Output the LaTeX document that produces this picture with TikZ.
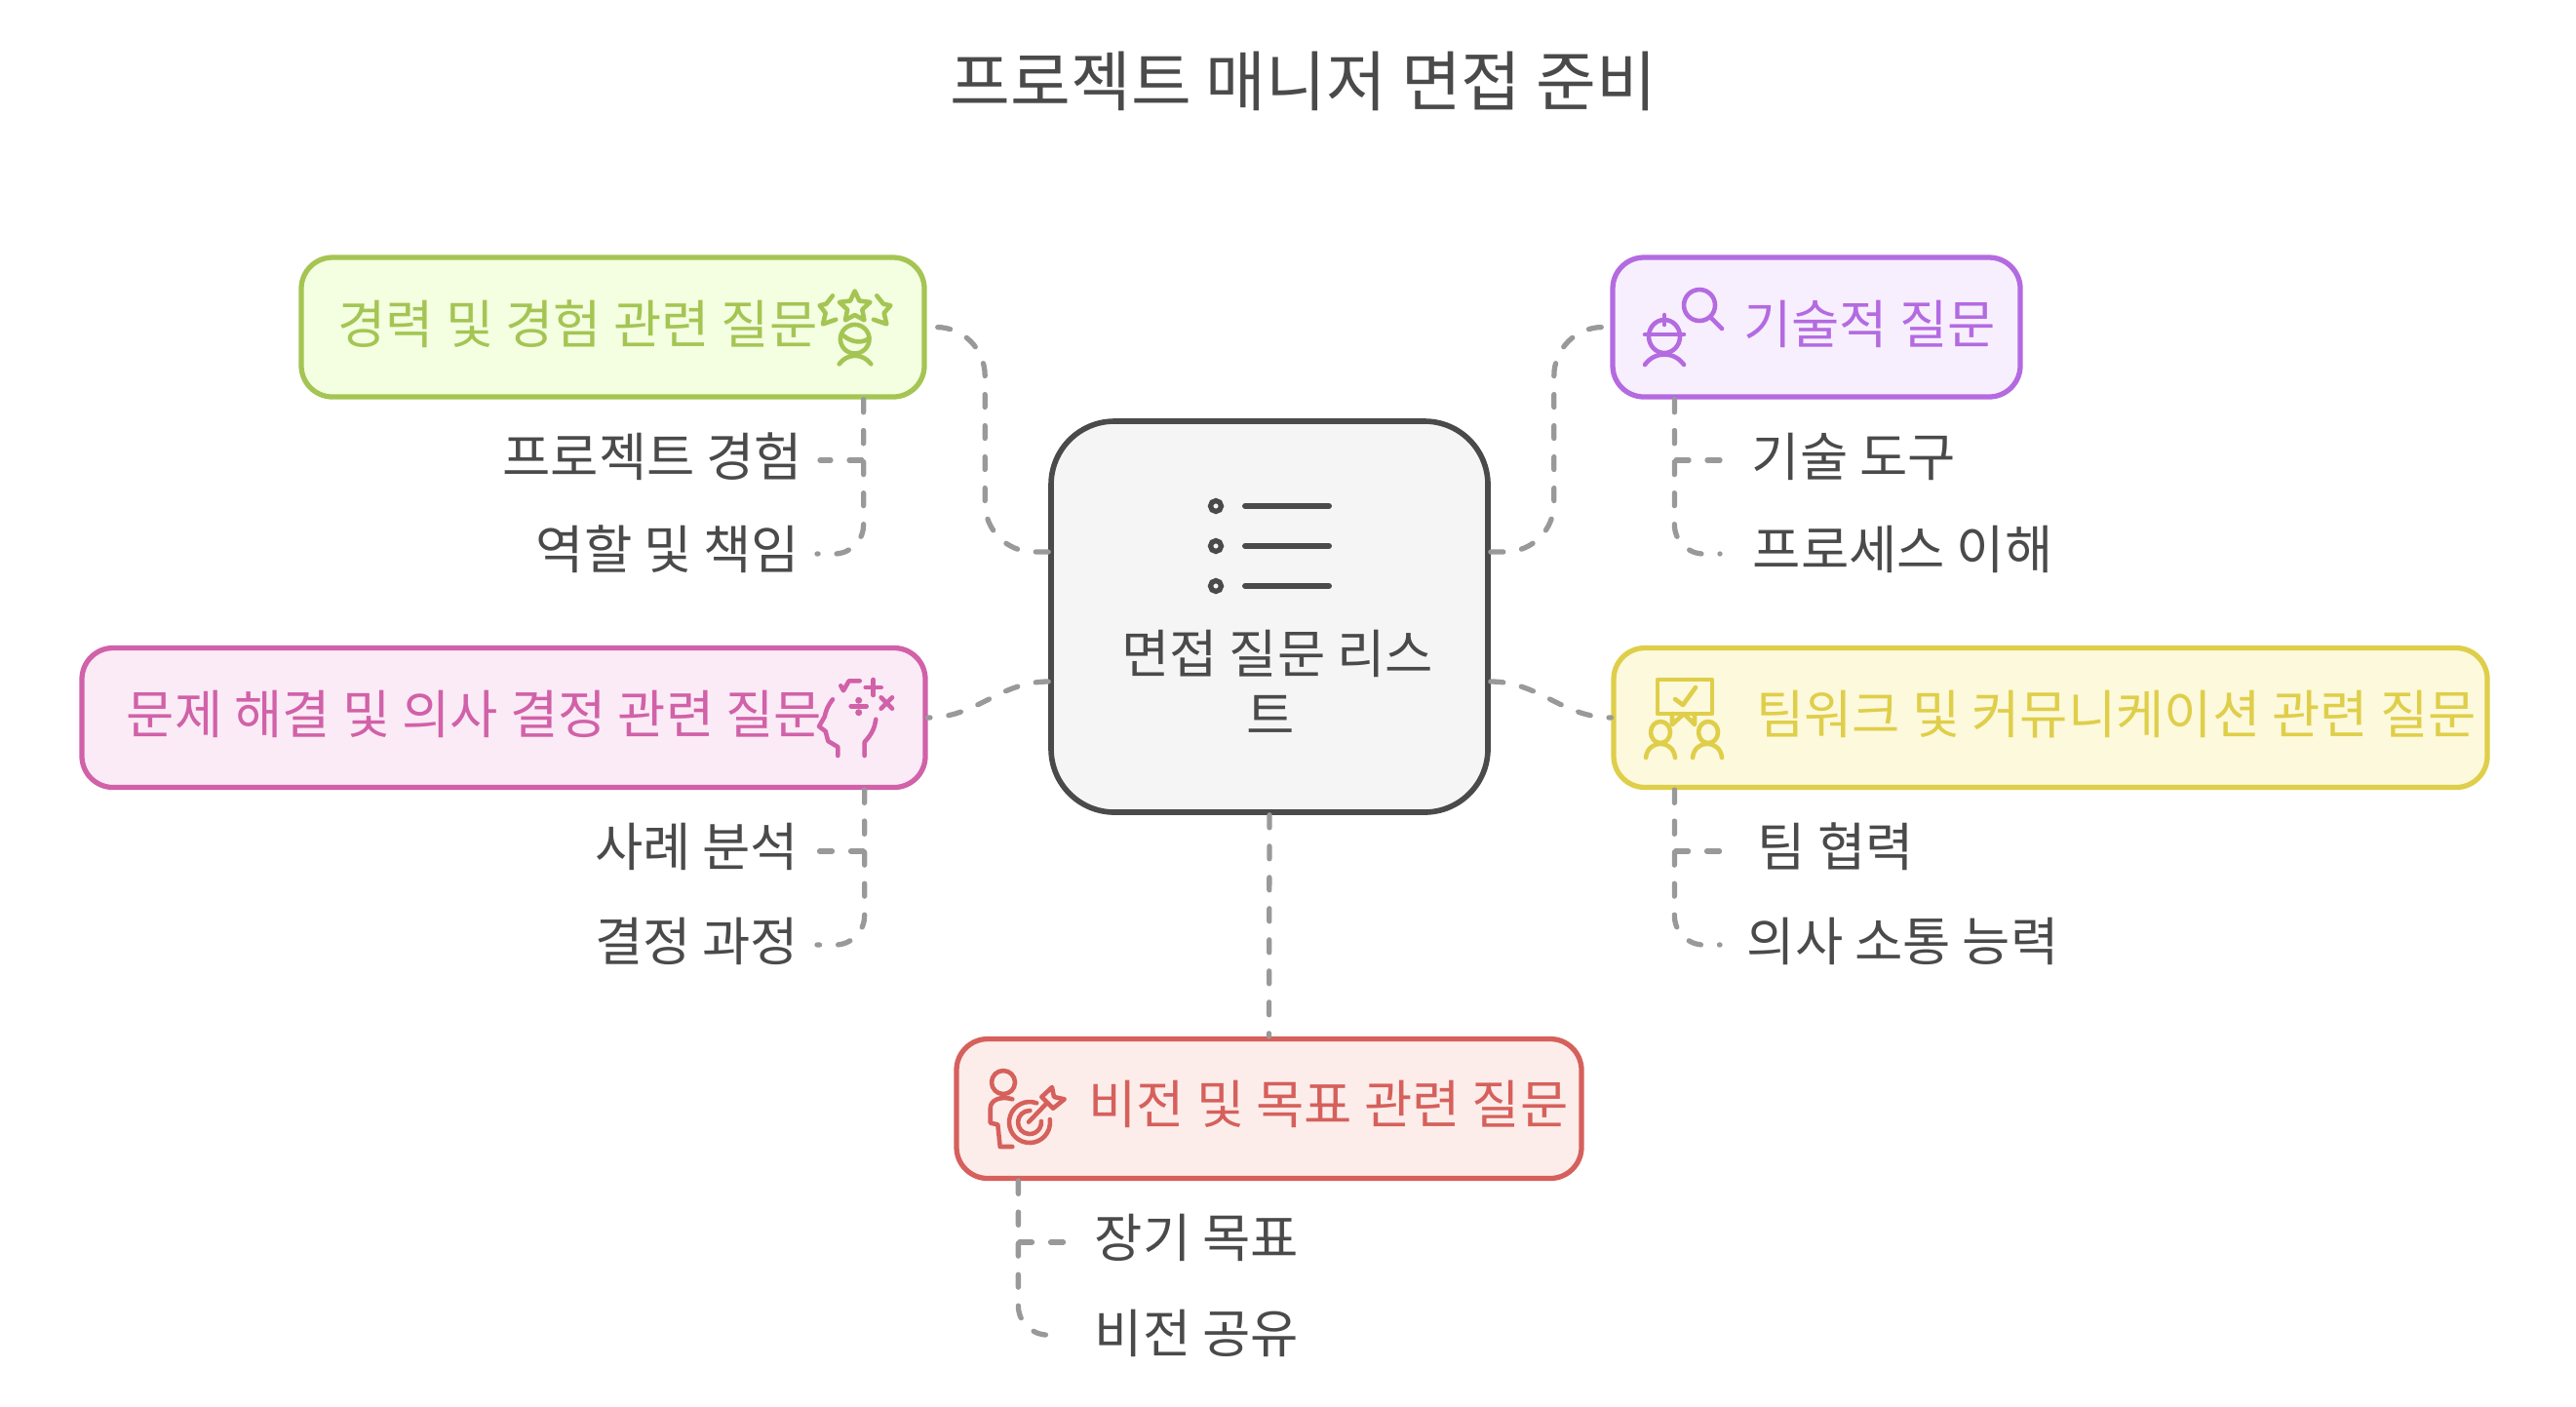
\documentclass[tikz,border=0pt]{standalone}
\usepackage{fontspec}
\setmainfont{Noto Sans CJK KR}
\usepackage{xcolor}
\usetikzlibrary{arrows.meta,positioning,calc}
\definecolor{ink}{HTML}{4A4A4A}
\definecolor{linkgray}{HTML}{999999}
\definecolor{greenline}{HTML}{A4C553}
\definecolor{greenfill}{HTML}{F4FEE0}
\definecolor{purpleline}{HTML}{B46AE0}
\definecolor{purplefill}{HTML}{F7EFFE}
\definecolor{pinkline}{HTML}{D161A8}
\definecolor{pinkfill}{HTML}{FBEBF6}
\definecolor{yellowline}{HTML}{DFCE4A}
\definecolor{yellowfill}{HTML}{FDF9DC}
\definecolor{redline}{HTML}{D6605B}
\definecolor{redfill}{HTML}{FCEDEB}
\begin{document}
\begin{tikzpicture}[font=\fontsize{15.25}{18}\selectfont,text=ink,
catbox/.style={draw,rounded corners=3.2mm,line width=1.5pt,minimum height=14.3mm},
lab/.style={inner sep=0pt,text height=4.4mm,text depth=.8mm},
link/.style={draw=linkgray,line width=1.5pt,line cap=round,dash pattern=on 1.3mm off 1.9mm},
leaf/.style={link,rounded corners=3mm},
icon/.style={line width=1.3pt,line cap=round,line join=round}]
\useasboundingbox (0,0) rectangle (26.42,-14.42);
\node[lab,font=\fontsize{19.1}{22}\selectfont] (title) at (13.37,-.9) {프로젝트 매니저 면접 준비};
% hub and the five groups
\node[draw=ink,fill=black!4,rounded corners=6.5mm,line width=1.6pt,minimum width=44.8mm,minimum height=40.1mm] (hub) at (13.02,-6.325) {};
\node[catbox,draw=greenline,fill=greenfill,minimum width=63.9mm] (career) at (6.285,-3.355) {};
\node[catbox,draw=purpleline,fill=purplefill,minimum width=41.8mm] (tech) at (18.63,-3.355) {};
\node[catbox,draw=pinkline,fill=pinkfill,minimum width=86.5mm] (problem) at (5.165,-7.36) {};
\node[catbox,draw=yellowline,fill=yellowfill,minimum width=89.6mm] (team) at (21.03,-7.36) {};
\node[catbox,draw=redline,fill=redfill,minimum width=64.1mm] (vision) at (13.015,-11.37) {};
\node[lab,align=center,font=\fontsize{15.25}{17.9}\selectfont] (hublab) at (13.03,-7.35) {\hspace*{1.4mm}면접 질문 리스\\트};
\node[lab,text=greenline] (careerlab) at (5.925,-3.34) {경력 및 경험 관련 질문};
\node[lab,text=purpleline] (techlab) at (19.175,-3.34) {기술적 질문};
\node[lab,text=pinkline] (problemlab) at (4.865,-7.34) {문제 해결 및 의사 결정 관련 질문};
\node[lab,text=yellowline] (teamlab) at (21.705,-7.34) {팀워크 및 커뮤니케이션 관련 질문};
\node[lab,text=redline] (visionlab) at (13.625,-11.34) {비전 및 목표 관련 질문};
% leaves
\node[lab,anchor=east] (cara) at (8.24,-4.7) {프로젝트 경험};
\node[lab,anchor=east] (carb) at (8.21,-5.65) {역할 및 책임};
\node[lab,anchor=west] (techa) at (17.96,-4.7) {기술 도구};
\node[lab,anchor=west] (techb) at (17.97,-5.65) {프로세스 이해};
\node[lab,anchor=east] (proba) at (8.2,-8.7) {사례 분석};
\node[lab,anchor=east] (probb) at (8.2,-9.67) {결정 과정};
\node[lab,anchor=west] (teama) at (18.02,-8.7) {팀 협력};
\node[lab,anchor=west] (teamb) at (17.91,-9.67) {의사 소통 능력};
\node[lab,anchor=west] (visa) at (11.22,-12.71) {장기 목표};
\node[lab,anchor=west] (visb) at (11.22,-13.69) {비전 공유};
% hub links
\draw[link,rounded corners=5mm] ([yshift=6.65mm]hub.west) -- ++(-.65,0) |- (career.east);
\draw[link,rounded corners=5mm] ([yshift=6.65mm]hub.east) -- ++(.65,0) |- (tech.west);
\draw[link] ([yshift=-6.65mm]hub.west) to[out=180,in=0] (problem.east);
\draw[link] ([yshift=-6.65mm]hub.east) to[out=0,in=180] (team.west);
\draw[link] (hub.south) -- (vision.north);
% leaf links
\draw[link] ([xshift=-.65cm]career.south east) |- ([xshift=1.7mm,yshift=-.2mm]cara.east);
\draw[leaf] ([xshift=-.65cm]career.south east) |- ([xshift=1.7mm,yshift=-.3mm]carb.east);
\draw[link] ([xshift=.66cm]tech.south west) |- ([xshift=-3.2mm,yshift=-.2mm]techa.west);
\draw[leaf] ([xshift=.66cm]tech.south west) |- ([xshift=-3.3mm,yshift=-.3mm]techb.west);
\draw[link] ([xshift=-.65cm]problem.south east) |- ([xshift=1.8mm,yshift=-.3mm]proba.east);
\draw[leaf] ([xshift=-.65cm]problem.south east) |- ([xshift=1.8mm,yshift=-.2mm]probb.east);
\draw[link] ([xshift=.65cm]team.south west) |- ([xshift=-3.8mm,yshift=-.3mm]teama.west);
\draw[leaf] ([xshift=.65cm]team.south west) |- ([xshift=-2.7mm,yshift=-.2mm]teamb.west);
\draw[link] ([xshift=.66cm]vision.south west) |- ([xshift=-3.1mm,yshift=-.3mm]visa.west);
\draw[leaf] ([xshift=.66cm]vision.south west) |- ([xshift=-3.1mm]visb.west);
% hub icon
\foreach \y in {5.19,5.6,6.01}{
  \draw[ink,line width=1.5pt] (12.47,-\y) circle (.055);
  \draw[ink,line width=1.7pt,line cap=round] (12.77,-\y) -- (13.63,-\y);
}
% career icon
\begin{scope}[icon,draw=greenline]
\draw (8.767,-2.985) -- (8.814,-3.085) -- (8.924,-3.099) -- (8.843,-3.175) -- (8.864,-3.283) -- (8.767,-3.23) -- (8.67,-3.283) -- (8.691,-3.175) -- (8.61,-3.099) -- (8.72,-3.085) -- cycle;
\draw (8.54,-3.033) -- (8.473,-3.117) -- (8.407,-3.133) -- (8.467,-3.21) -- (8.44,-3.323) -- (8.573,-3.277);
\draw (8.993,-3.033) -- (9.06,-3.117) -- (9.133,-3.133) -- (9.067,-3.21) -- (9.093,-3.323) -- (8.96,-3.277);
\draw (8.767,-3.477) circle (.148);
\draw (8.65,-3.443) .. controls (8.75,-3.52) and (8.85,-3.52) .. (8.915,-3.467);
\draw (8.607,-3.733) .. controls (8.69,-3.62) and (8.85,-3.62) .. (8.933,-3.733);
\end{scope}
% tech icon
\begin{scope}[icon,draw=purpleline]
\draw (17.43,-3.13) circle (.16);
\draw (17.54,-3.25) -- (17.66,-3.37);
\draw (17.07,-3.45) ellipse (.16 and .17);
\draw (16.87,-3.43) -- (17.27,-3.43);
\draw (17.07,-3.23) -- (17.07,-3.33);
\draw (16.87,-3.74) .. controls (16.97,-3.6) and (17.17,-3.6) .. (17.27,-3.74);
\end{scope}
% problem icon
\begin{scope}[icon,draw=pinkline]
\draw (8.54,-7.173) .. controls (8.48,-7.25) and (8.47,-7.3) .. (8.457,-7.35) -- (8.4,-7.45) -- (8.467,-7.5) -- (8.493,-7.6) -- (8.593,-7.66) -- (8.593,-7.75);
\draw (8.983,-7.377) .. controls (8.97,-7.46) and (8.95,-7.52) .. (8.867,-7.61) -- (8.867,-7.75);
\draw (8.623,-7.033) -- (8.65,-7.083) -- (8.707,-6.983) -- (8.817,-6.983);
\draw (8.957,-6.97) -- (8.957,-7.13) (8.877,-7.05) -- (9.037,-7.05);
\draw (9.036,-7.153) -- (9.15,-7.267) (9.15,-7.153) -- (9.036,-7.267);
\draw (8.727,-7.243) -- (8.887,-7.243);
\fill[pinkline] (8.807,-7.183) circle (.035) (8.807,-7.307) circle (.035);
\end{scope}
% team icon
\begin{scope}[icon,draw=yellowline]
\draw (17.0,-6.97) rectangle (17.56,-7.32);
\draw (17.15,-7.32) -- (17.15,-7.43) -- (17.27,-7.32) -- (17.38,-7.43) -- (17.38,-7.32);
\draw (17.18,-7.17) -- (17.26,-7.23) -- (17.39,-7.05);
\draw (17.03,-7.51) ellipse (.1 and .11);
\draw (17.52,-7.51) ellipse (.1 and .11);
\draw (16.88,-7.77) .. controls (16.9,-7.58) and (17.16,-7.58) .. (17.18,-7.77);
\draw (17.36,-7.77) .. controls (17.38,-7.58) and (17.64,-7.58) .. (17.66,-7.77);
\end{scope}
% vision icon
\begin{scope}[icon,draw=redline]
\draw (10.29,-11.1) circle (.12);
\draw (10.383,-11.273) .. controls (10.28,-11.24) and (10.157,-11.27) .. (10.157,-11.367) -- (10.157,-11.517) -- (10.233,-11.533) -- (10.257,-11.76) -- (10.383,-11.76);
\draw (10.56,-11.51) ++(70:.21) arc (70:368:.21);
\draw (10.56,-11.51) ++(88:.12) arc (88:365:.12);
\draw (10.55,-11.507) -- (10.733,-11.317);
\draw (10.683,-11.25) -- (10.79,-11.15) -- (10.81,-11.25) -- (10.917,-11.273) -- (10.8,-11.367) -- cycle;
\end{scope}
\end{tikzpicture}
\end{document}
